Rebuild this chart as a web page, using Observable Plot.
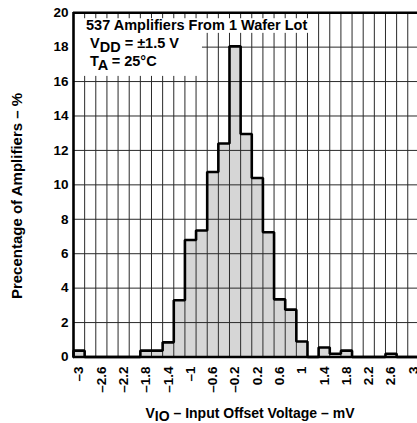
<!DOCTYPE html>
<html><head><meta charset="utf-8">
<script src="https://cdn.jsdelivr.net/npm/d3@7"></script>
<script src="https://cdn.jsdelivr.net/npm/@observablehq/plot@0.6"></script>
<style>html,body{margin:0;padding:0;background:#fff;overflow:hidden}</style>
</head><body><div id="chart"></div>
<script>
// Bin centers (mV), bin width 0.2 mV
const binCenters = [-3,-2.8,-2.6,-2.4,-2.2,-2,-1.8,-1.6,-1.4,-1.2,-1,-0.8,-0.6,-0.4,-0.2,0,0.2,0.4,0.6,0.8,1,1.2,1.4,1.6,1.8,2,2.2,2.4,2.6,2.8,3];
// Percentage of amplifiers in each bin
const percentages = [0.37,0,0,0,0,0,0.37,0.37,0.85,3.3,6.8,7.35,10.75,12.4,18.05,12.95,10.4,7.25,3.35,2.75,0.9,0,0.55,0.19,0.37,0,0,0,0.19,0,0];
const yTicks = [0,2,4,6,8,10,12,14,16,18,20];
const xTickValues = [-3,-2.6,-2.2,-1.8,-1.4,-1,-0.6,-0.2,0.2,0.6,1,1.4,1.8,2.2,2.6,3];
const xTickLabels = ["–3","–2.6","–2.2","–1.8","–1.4","–1","–0.6","–0.2","0.2","0.6","1","1.4","1.8","2.2","2.6","3"];
const noteLines = ["537 Amplifiers From 1 Wafer Lot"];
const binWidth = 0.2;

const bins = binCenters.map((c, i) => ({x1: c - binWidth/2, x2: c + binWidth/2, v: percentages[i]}));
const outline = [{x: bins[0].x1, y: 0}];
bins.forEach(b => { outline.push({x: b.x1, y: b.v}); outline.push({x: b.x2, y: b.v}); });
const gridX = binCenters.map(c => +(c + binWidth/2).toFixed(2));
const gridY = yTicks.filter(t => t > 0 && t < 20);
const xmin = bins[0].x1, xmax = bins[bins.length-1].x2;
const labelMap = new Map(xTickValues.map((v, i) => [v, xTickLabels[i]]));
// white annotation boxes (data coordinates)
const noteBoxes = [
  {x1: xmin, x2: -0.785, y1: 16.3, y2: 19.65},
  {x1: -0.785, x2: 1.245, y1: 18.8, y2: 19.65}
];

const font = "'Liberation Sans', Arial, Helvetica, sans-serif";
const plot = Plot.plot({
  width: 417, height: 423,
  marginLeft: 73, marginRight: 0, marginTop: 12, marginBottom: 66,
  style: {fontFamily: font, fontSize: "13.5px", fontWeight: "bold", color: "#000", background: "#fff", overflow: "hidden"},
  x: {domain: [xmin, xmax], range: [73, 418.4], label: null},
  y: {domain: [0, 20], range: [356.5, 12.2], label: null},
  marks: [
    Plot.rect(bins, {x1: "x1", x2: "x2", y1: 0, y2: "v", fill: "#d6d6d6"}),
    Plot.ruleX(gridX, {stroke: "#2a2a2a", strokeWidth: 1}),
    Plot.ruleY(gridY, {stroke: "#2a2a2a", strokeWidth: 1}),
    Plot.rect(noteBoxes, {x1: "x1", x2: "x2", y1: "y1", y2: "y2", fill: "#fff"}),
    Plot.line(outline, {x: "x", y: "y", stroke: "#000", strokeWidth: 2.6, strokeLinejoin: "miter"}),
    Plot.ruleY([0, 20], {stroke: "#000", strokeWidth: 2.6}),
    Plot.ruleX([xmin], {stroke: "#000", strokeWidth: 2.6}),
    Plot.axisX(xTickValues, {tickRotate: -90, tickSize: 0, tickPadding: 9, tickFormat: d => labelMap.get(d), label: null}),
    Plot.axisY(yTicks, {tickSize: 0, tickPadding: 5, label: null})
  ]
});
document.getElementById("chart").appendChild(plot);

const svg = d3.select(plot);
function addText(x, y, parts, opts = {}) {
  const t = svg.append("text").attr("x", x).attr("y", y)
    .attr("font-family", font).attr("font-weight", "bold")
    .attr("font-size", opts.size || 14).attr("fill", "#000")
    .attr("text-anchor", opts.anchor || "start");
  if (opts.rotate) t.attr("transform", `rotate(${opts.rotate},${x},${y})`);
  let shift = 0;
  parts.forEach(p => {
    const s = p.sub ? 3.5 : 0;
    t.append("tspan").attr("dy", s - shift).text(p.t);
    shift = s;
  });
  return t;
}
addText(86, 29.5, [{t: noteLines[0]}], {size: 14.5});
addText(90, 48, [{t: "V"}, {t: "DD", sub: true}, {t: " = ±1.5 V"}], {size: 14.5});
addText(90, 66, [{t: "T"}, {t: "A", sub: true}, {t: " = 25°C"}], {size: 14.5});
addText(250, 417.5, [{t: "V"}, {t: "IO", sub: true}, {t: " – Input Offset Voltage – mV"}], {size: 14, anchor: "middle"});
addText(21.5, 196, [{t: "Precentage of Amplifiers – %"}], {size: 15, anchor: "middle", rotate: -90});
</script>
</body></html>
